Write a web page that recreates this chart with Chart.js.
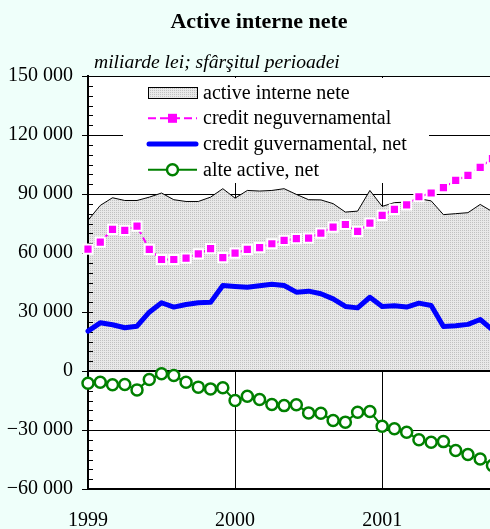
<!DOCTYPE html>
<html>
<head>
<meta charset="utf-8">
<script src="https://cdn.jsdelivr.net/npm/chart.js@4.4.1/dist/chart.umd.min.js"></script>
<style>
  html, body { margin: 0; padding: 0; background: #effffa; overflow: hidden; }
  #wrap { position: relative; width: 490px; height: 529px; }
  #grafic { position: absolute; left: 0; top: 0; }
  .titlu { position: absolute; left: 0; width: 518px; top: 10px; text-align: center;
           font: bold 22px "Liberation Serif", serif; line-height: 22px; color: #000; }
  .subtitlu { position: absolute; left: 94px; top: 52px; white-space: nowrap;
              font: italic 19.6px "Liberation Serif", serif; line-height: 20px; color: #000; }
</style>
</head>
<body>
<div id="wrap">
  <canvas id="grafic" width="490" height="529"></canvas>
  <div class="titlu">Active interne nete</div>
  <div class="subtitlu">miliarde lei; sfârşitul perioadei</div>
</div>
<script>
// luni (sfarsitul perioadei), ian 1999 - oct 2001
const luni = [
  'ian 99', 'feb 99', 'mar 99', 'apr 99', 'mai 99', 'iun 99', 'iul 99', 'aug 99', 'sep 99', 'oct 99', 'nov 99', 'dec 99',
  'ian 00', 'feb 00', 'mar 00', 'apr 00', 'mai 00', 'iun 00', 'iul 00', 'aug 00', 'sep 00', 'oct 00', 'nov 00', 'dec 00',
  'ian 01', 'feb 01', 'mar 01', 'apr 01', 'mai 01', 'iun 01', 'iul 01', 'aug 01', 'sep 01', 'oct 01'
];

const activeInterne = [76600, 84200, 88100, 86700, 86700, 88400, 90500, 87100, 86200, 86200, 88400, 92700,
  87900, 91800, 91500, 91800, 92700, 89800, 87100, 87000, 85100, 80800, 81300, 91800,
  83700, 85600, 85900, 87600, 86500, 79500, 80000, 80500, 84700, 81000];

const creditNeguv = [62000, 65500, 72000, 71500, 73700, 61800, 56700, 56700, 57400, 59600, 62200, 57600,
  59900, 61800, 62700, 64700, 66400, 67300, 67600, 70100, 73200, 74500, 71000, 75200,
  79100, 82200, 84500, 88600, 90500, 93200, 96900, 99500, 103500, 108000];

const creditGuv = [20250, 24500, 23500, 22000, 22800, 29900, 34700, 32500, 33800, 34700, 34900, 43500,
  43000, 42600, 43300, 44100, 43500, 40100, 40600, 39300, 36700, 32800, 32100, 37500,
  32800, 33200, 32500, 34500, 33300, 22600, 23000, 23700, 26200, 21000];

const alteActive = [-6200, -5700, -7000, -6900, -9600, -4300, -1450, -2300, -5700, -8200, -9100, -8500,
  -15000, -12800, -14500, -17000, -17600, -17200, -21300, -21500, -25200, -26000, -21000, -20600,
  -28100, -29400, -31100, -35000, -36200, -35900, -40400, -42500, -44700, -48000];

const yTicks = [-60000, -30000, 0, 30000, 60000, 90000, 120000, 150000];
const aniPozitie = [0, 12, 24];
const aniEticheta = ['1999', '2000', '2001'];

const serif = '"Liberation Serif", "Times New Roman", serif';

// hasura gri pentru suprafata
function hasura() {
  const c = document.createElement('canvas');
  c.width = 2; c.height = 2;
  const g = c.getContext('2d');
  g.fillStyle = '#e8e8e8'; g.fillRect(0, 0, 2, 2);
  g.fillStyle = '#c0c0c0'; g.fillRect(0, 0, 1, 1);
  return g.createPattern(c, 'repeat');
}
const model = hasura();

const pts = arr => arr.map((v, i) => ({ x: i, y: v }));

function formatMii(v) {
  if (v === 0) return '0';
  const s = Math.abs(v).toString().replace(/\B(?=(\d{3})+(?!\d))/g, ' ');
  return (v < 0 ? '\u2212' : '') + s;
}

const legenda = { x: 123, y: 78, w: 306, h: 105 };

const decor = {
  id: 'decor',
  beforeDraw(chart) {
    const { ctx, chartArea: a } = chart;
    ctx.save();
    ctx.fillStyle = '#ffffff';
    ctx.fillRect(a.left, a.top, a.right - a.left, a.bottom - a.top);
    ctx.restore();
  },
  beforeDatasetsDraw(chart) {
    // fundalul legendei acopera liniile de grila
    const ctx = chart.ctx;
    ctx.save();
    ctx.fillStyle = '#ffffff';
    ctx.fillRect(legenda.x, legenda.y, legenda.w, legenda.h);
    ctx.restore();
  },
  afterDatasetDraw(chart, args) {
    if (args.index !== 0) return;
    const { ctx, chartArea: a, scales: { y } } = chart;
    ctx.save();
    ctx.strokeStyle = '#000';
    // linia zero
    ctx.lineWidth = 2;
    const y0 = Math.round(y.getPixelForValue(0));
    ctx.beginPath(); ctx.moveTo(a.left, y0); ctx.lineTo(a.right, y0); ctx.stroke();
    // axa verticala
    ctx.beginPath(); ctx.moveTo(a.left, a.top); ctx.lineTo(a.left, a.bottom + 1); ctx.stroke();
    // diviziuni mici, spre interior
    ctx.lineWidth = 1;
    for (let k = 0; k < yTicks.length - 1; k++) {
      const p1 = y.getPixelForValue(yTicks[k]);
      const p2 = y.getPixelForValue(yTicks[k + 1]);
      for (let j = 0; j <= 6; j++) {
        const py = Math.round(p1 + (p2 - p1) * j / 6) + 0.5;
        ctx.beginPath(); ctx.moveTo(a.left, py); ctx.lineTo(a.left + 5, py); ctx.stroke();
      }
    }
    ctx.restore();
  },
  afterDatasetsDraw(chart) {
    const ctx = chart.ctx;
    const x1 = 148, x2 = 197, xm = 172.5, xt = 203;
    const rows = [98.5, 124.3, 150, 175.8];
    ctx.save();
    // suprafata
    ctx.fillStyle = model;
    ctx.fillRect(x1, 87, x2 - x1, 11);
    ctx.strokeStyle = '#000'; ctx.lineWidth = 1;
    ctx.strokeRect(x1 + 0.5, 87.5, x2 - x1, 11);
    // credit neguvernamental
    let ym = rows[1] - 6;
    ctx.strokeStyle = '#ff00ff'; ctx.lineWidth = 2; ctx.setLineDash([8, 4]);
    ctx.beginPath(); ctx.moveTo(x1, ym); ctx.lineTo(x2, ym); ctx.stroke();
    ctx.setLineDash([]);
    ctx.fillStyle = '#ff00ff';
    ctx.fillRect(xm - 4.5, ym - 4.5, 9, 9);
    // credit guvernamental
    ym = rows[2] - 6;
    ctx.strokeStyle = '#0000ff'; ctx.lineWidth = 5; ctx.lineCap = 'round';
    ctx.beginPath(); ctx.moveTo(x1 + 1, ym); ctx.lineTo(x2 - 1, ym); ctx.stroke();
    ctx.lineCap = 'butt';
    // alte active
    ym = rows[3] - 6;
    ctx.strokeStyle = '#008000'; ctx.lineWidth = 2;
    ctx.beginPath(); ctx.moveTo(x1, ym); ctx.lineTo(x2, ym); ctx.stroke();
    ctx.fillStyle = '#ffffff'; ctx.lineWidth = 2.5;
    ctx.beginPath(); ctx.arc(xm, ym, 5.5, 0, Math.PI * 2); ctx.fill(); ctx.stroke();
    // texte
    ctx.fillStyle = '#000';
    ctx.font = '20px ' + serif;
    ctx.textBaseline = 'alphabetic';
    chart.data.datasets.forEach((d, i) => ctx.fillText(d.label, xt, rows[i]));
    ctx.restore();
  }
};

new Chart(document.getElementById('grafic'), {
  type: 'line',
  data: {
    datasets: [
      {
        label: 'active interne nete', data: pts(activeInterne), order: 4,
        borderColor: '#000', borderWidth: 1, backgroundColor: model, fill: 'origin',
        pointRadius: 0, clip: false
      },
      {
        label: 'credit neguvernamental', data: pts(creditNeguv), order: 3,
        borderColor: '#ff00ff', borderWidth: 2, borderDash: [6, 4], fill: false,
        pointStyle: 'rect', pointRadius: 6.5, pointBackgroundColor: '#ff00ff',
        pointBorderColor: '#ffffff', pointBorderWidth: 2, clip: false
      },
      {
        label: 'credit guvernamental, net', data: pts(creditGuv), order: 2,
        borderColor: '#0000ff', borderWidth: 5, fill: false, pointRadius: 0,
        borderJoinStyle: 'round', borderCapStyle: 'round', clip: false
      },
      {
        label: 'alte active, net', data: pts(alteActive), order: 1,
        borderColor: '#008000', borderWidth: 2, fill: false,
        pointRadius: 5.5, pointBackgroundColor: '#ffffff', pointBorderColor: '#008000',
        pointBorderWidth: 2.5, clip: false
      }
    ]
  },
  options: {
    responsive: false,
    animation: false,
    devicePixelRatio: 1,
    layout: { autoPadding: false, padding: { top: 76, right: 0, bottom: 0, left: 0 } },
    elements: { line: { tension: 0 } },
    plugins: { legend: { display: false }, tooltip: { enabled: false }, title: { display: false } },
    scales: {
      x: {
        type: 'linear', min: 0, max: 32.8,
        afterBuildTicks: s => { s.ticks = aniPozitie.map(v => ({ value: v })); },
        afterFit: s => { s.height = 40; s.paddingLeft = 0; s.paddingRight = 0; },
        grid: {
          color: c => (c.tick && c.tick.value > 0) ? '#000' : 'rgba(0,0,0,0)',
          lineWidth: 1, drawTicks: false
        },
        border: { color: '#000', width: 2 },
        ticks: {
          callback: v => aniEticheta[aniPozitie.indexOf(v)],
          font: { family: serif, size: 20 }, color: '#000',
          padding: 20, maxRotation: 0, autoSkip: false
        }
      },
      y: {
        min: -60000, max: 150000,
        afterBuildTicks: s => { s.ticks = yTicks.map(v => ({ value: v })); },
        afterFit: s => { s.width = 88; },
        grid: { color: '#000', tickColor: '#000', tickLength: 6, lineWidth: 1 },
        border: { color: '#000', width: 2 },
        ticks: {
          callback: v => formatMii(v),
          font: { family: serif, size: 20 }, color: '#000',
          padding: 9, autoSkip: false
        }
      }
    }
  },
  plugins: [decor]
});
</script>
</body>
</html>
